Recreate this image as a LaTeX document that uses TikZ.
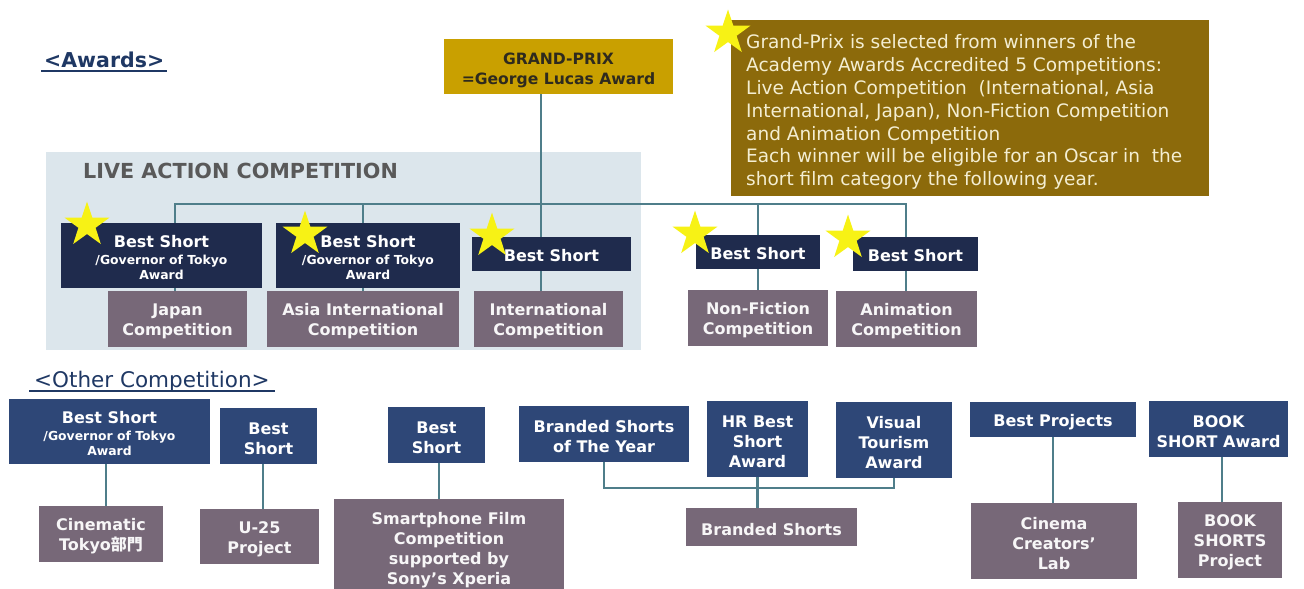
\documentclass[tikz,border=0pt]{standalone}
\usepackage{fontspec}
\setmainfont{DejaVu Sans}
\newfontfamily\tah{DejaVu Sans}
\newfontfamily\cjk{Noto Sans CJK JP}
\usetikzlibrary{shapes.geometric}
\definecolor{navyA}{HTML}{1F2B4D}
\definecolor{navyB}{HTML}{2E4777}
\definecolor{mauve}{HTML}{776878}
\definecolor{gold}{HTML}{C9A000}
\definecolor{olive}{HTML}{8C6A0B}
\definecolor{bgblue}{HTML}{DCE6EC}
\definecolor{linec}{HTML}{4F7E8A}
\definecolor{headc}{HTML}{1F3864}
\definecolor{starc}{HTML}{F7F215}
\definecolor{cream}{HTML}{F4EED2}
\definecolor{titlegray}{HTML}{595959}
\definecolor{gptext}{HTML}{2E2A1E}
% plain filled rectangle
\newcommand\abox[7]{\node[#6, minimum width={(#4-#2)*1pt}, minimum height={(#5-#3)*1pt}] (#1) at ({(#2+#4)/2},{(#3+#5)/2}) {#7};}
% filled rectangle with its text set slightly lower than the geometric centre
\newcommand\tbox[8][2.5]{%
  \node[#7, minimum width={(#5-#3)*1pt}, minimum height={(#6-#4)*1pt}] (#2) at ({(#3+#5)/2},{(#4+#6)/2}) {};
  \node[#7, fill=none, minimum width=0pt, minimum height=0pt] (#2-t) at ({(#3+#5)/2},{(#4+#6)/2+#1}) {#8};}
\begin{document}
\begin{tikzpicture}[x=1pt,y=-1pt,
  box/.style={draw=none, inner sep=0pt, align=center, text=white, font=\tah\bfseries\fontsize{16}{20}\selectfont},
  aw/.style={box, fill=navyA},
  ot/.style={box, fill=navyB},
  cp/.style={box, fill=mauve, text=white!94!mauve},
  gov/.style={font=\tah\bfseries\fontsize{12.4}{15.5}\selectfont},
  ystar/.style={star, star points=5, star point ratio=2.6, fill=starc, draw=none, inner sep=0pt, minimum size=47pt},
  conn/.style={draw=linec, line width=2.3pt}]
\fill[white] (0,0) rectangle (1304,589);
\useasboundingbox (0,0) rectangle (1304,589);

% headings
\node[anchor=base west, inner sep=0pt, text=headc, font=\tah\bfseries\fontsize{20.5}{22}\selectfont] (awh) at (44,67.5) {<Awards>};
\draw[headc, line width=1.3pt] ([xshift=-3pt,yshift=-3.5pt]awh.base west) -- ([xshift=3pt,yshift=-3.5pt]awh.base east);
\node[anchor=base west, inner sep=0pt, text=headc, font=\tah\fontsize{21.5}{24}\selectfont] (oth) at (34,387) {<Other Competition>};
\draw[headc, line width=1.3pt] ([xshift=-5pt,yshift=-4pt]oth.base west) -- ([xshift=5pt,yshift=-4pt]oth.base east);

% live action background
\abox{labg}{46}{152}{641}{350}{fill=bgblue, inner sep=0pt}{}
\node[anchor=base west, inner sep=0pt, text=titlegray, font=\tah\bfseries\fontsize{20.7}{24}\selectfont] (lat) at (83,178) {LIVE ACTION COMPETITION};

% connector coordinates (awards)
\coordinate (hub) at (541,204);
\coordinate (busL) at (175,204);
\coordinate (busA) at (363,204);
\coordinate (busN) at (758,204);
\coordinate (busR) at (906,204);

% connector coordinates (other)
\coordinate (cinx) at (106,480);
\coordinate (u25x) at (263,480);
\coordinate (smx) at (439,480);
\coordinate (brbus) at (757,488);
\coordinate (bookx) at (1222,480);

% grand prix and note
\tbox[4]{gp}{444}{39}{673}{94}{box, fill=gold, text=gptext, font=\tah\bfseries\fontsize{15.6}{20}\selectfont}{GRAND-PRIX\\=George Lucas Award}
\abox{note}{731}{20}{1209}{196}{fill=olive, inner sep=0pt}{}
\node[anchor=north west, inner sep=0pt, align=left, text=cream, font=\fontsize{18.5}{22.83}\selectfont] (notetext) at (746,34.5) {Grand-Prix is selected from winners of the\\Academy Awards Accredited 5 Competitions:\\Live Action Competition\ \ (International, Asia\\International, Japan), Non-Fiction Competition\\and Animation Competition\\Each winner will be eligible for an Oscar in\ \ the\\short film category the following year.};

% awards competition boxes
\tbox{japcp}{108}{291}{247}{347}{cp}{Japan\\Competition}
\tbox{asiacp}{267}{291}{459}{347}{cp}{Asia International\\Competition}
\tbox{intcp}{474}{291}{623}{347}{cp}{International\\Competition}
\tbox{nfcp}{688}{290}{828}{346}{cp}{Non-Fiction\\Competition}
\tbox{ancp}{836}{291}{977}{347}{cp}{Animation\\Competition}

\draw[conn] (gp.south -| hub) -- (intcp.north -| hub);
\draw[conn] (japcp.north -| busL) -- (busL) -- (busR) -- (ancp.north -| busR);
\draw[conn] (busA) -- (asiacp.north -| busA);
\draw[conn] (busN) -- (nfcp.north -| busN);

\tbox{japbs}{61}{223}{262}{288}{aw, gov}{{\fontsize{16}{16}\selectfont Best Short}\\[1pt]/Governor of Tokyo\\Award}
\tbox{asiabs}{276}{223}{460}{288}{aw, gov}{{\fontsize{16}{16}\selectfont Best Short}\\[1pt]/Governor of Tokyo\\Award}
\tbox[1.5]{intbs}{472}{237}{631}{271}{aw}{Best Short}
\tbox[1.5]{nfbs}{696}{235}{820}{269}{aw}{Best Short}
\tbox[1.5]{anbs}{853}{237}{978}{271}{aw}{Best Short}

% other competition
\tbox{cinbs}{9}{399}{210}{464}{ot, gov}{{\fontsize{16}{16}\selectfont Best Short}\\[1pt]/Governor of Tokyo\\Award}
\tbox{u25bs}{220}{408}{317}{464}{ot}{Best\\Short}
\tbox{smbs}{388}{407}{485}{463}{ot}{Best\\Short}
\tbox{boty}{519}{406}{689}{462}{ot}{Branded Shorts\\of The Year}
\tbox{hr}{707}{401}{808}{477}{ot}{HR Best\\Short\\Award}
\tbox{vt}{836}{402}{952}{478}{ot}{Visual\\Tourism\\Award}
\tbox{bp}{970}{402}{1136}{437}{ot}{Best Projects}
\tbox{book}{1149}{401}{1288}{457}{ot}{BOOK\\SHORT Award}

\tbox{cincp}{39}{506}{163}{562}{cp}{Cinematic\\Tokyo{\cjk\bfseries 部門}}
\tbox{u25cp}{200}{509}{319}{564}{cp}{U-25\\Project}
\tbox{smcp}{334}{499}{564}{597}{cp}{Smartphone Film\\Competition\\supported by\\Sony’s Xperia}
\tbox{brcp}{686}{508}{857}{546}{cp}{Branded Shorts}
\tbox{cclab}{971}{503}{1137}{579}{cp}{Cinema\\Creators’\\Lab}
\tbox{bookcp}{1178}{502}{1282}{578}{cp}{BOOK\\SHORTS\\Project}

\draw[conn] (cinbs.south -| cinx) -- (cincp.north -| cinx);
\draw[conn] (u25bs.south -| u25x) -- (u25cp.north -| u25x);
\draw[conn] (smbs.south -| smx) -- (smcp.north -| smx);
\draw[conn] (boty.south) -- (boty.south |- brbus) -- (vt.south |- brbus) -- (vt.south);
\draw[conn] (hr.south) -- (brcp.north -| hr.south);
\draw[conn] (bp.south) -- (cclab.north -| bp.south);
\draw[conn] (book.south -| bookx) -- (bookcp.north -| bookx);

% stars
\node[ystar] (japS) at (87,225) {};
\node[ystar] (asiaS) at (305,234) {};
\node[ystar] (intS) at (492,236) {};
\node[ystar] (nfS) at (695,234) {};
\node[ystar] (anS) at (848,238) {};
\node[ystar] (noteS) at (728,33) {};
\end{tikzpicture}
\end{document}
